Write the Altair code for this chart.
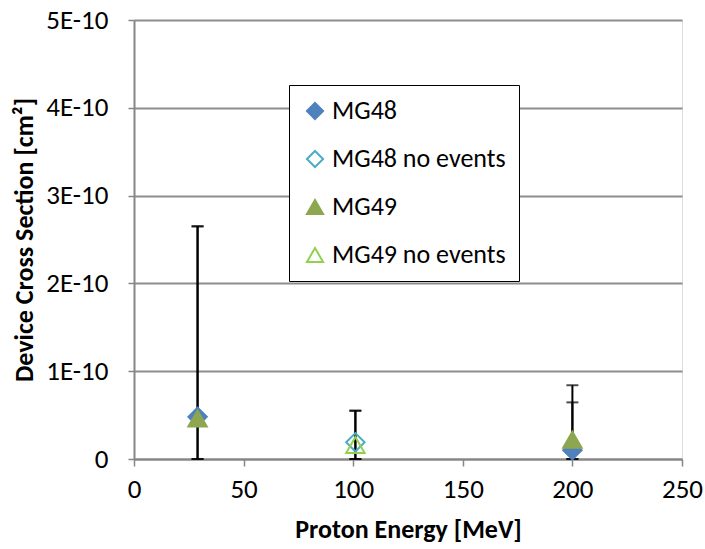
import altair as alt
import pandas as pd

# Marker data
energy = [29, 101, 200, 29, 101, 200]
cross_section = [0.48e-10, 0.19e-10, 0.10e-10, 0.46e-10, 0.16e-10, 0.22e-10]
series = ["MG48", "MG48 no events", "MG48", "MG49", "MG49 no events", "MG49"]

# Error bar data
err_energy = [29, 101, 200, 29, 101, 200]
err_low = [0.0, 0.0, 0.0, 0.0, 0.0, 0.0]
err_high = [2.65e-10, 0.55e-10, 0.645e-10, 2.65e-10, 0.55e-10, 0.84e-10]

x_ticks = [0, 50, 100, 150, 200, 250]
y_ticks = [0, 1e-10, 2e-10, 3e-10, 4e-10, 5e-10]

order = ["MG48", "MG48 no events", "MG49", "MG49 no events"]
shapes = ["diamond", "diamond", "triangle-up", "triangle-up"]
fills = ["#4F81BD", "transparent", "#8DA650", "transparent"]
strokes = ["#4F81BD", "#4BACC6", "#8DA650", "#92D050"]

pts = pd.DataFrame({"energy": energy, "value": cross_section, "series": series,
                    "ord": [order.index(s) for s in series]})
errs = pd.DataFrame({"energy": err_energy, "lo": err_low, "hi": err_high})

FONT = "Carlito, Lato, sans-serif"
FS = 26
LFS = 27

xs = alt.Scale(domain=[0, 250], nice=False)
ys = alt.Scale(domain=[0, 5e-10], nice=False)

x_enc = alt.X("energy:Q", scale=xs, title="Proton Energy [MeV]",
              axis=alt.Axis(values=x_ticks, grid=False, tickSize=7, tickColor="#868686",
                            domainColor="#868686", domainWidth=2, tickWidth=1.5,
                            labelFontSize=LFS, labelPadding=10, labelFlush=False,
                            titleFontSize=FS,
                            titleFontWeight="bold", titlePadding=14, labelFont=FONT,
                            titleFont=FONT, labelColor="#000000", titleColor="#000000"))
y_axis = alt.Axis(values=y_ticks, grid=True, gridColor="#8C8C8C", gridWidth=2,
                  tickSize=6, tickColor="#868686", tickWidth=1.5,
                  domainColor="#868686", domainWidth=2, labelFlush=False,
                  labelExpr="datum.value == 0 ? '0' : round(datum.value*1e10) + 'E-10'",
                  labelFontSize=LFS, labelPadding=20, titleFontSize=FS,
                  titleFontWeight="bold", titlePadding=8, labelFont=FONT, titleFont=FONT,
                  labelColor="#000000", titleColor="#000000")

rules = alt.Chart(errs).mark_rule(color="black", strokeWidth=2).encode(
    x=x_enc,
    y=alt.Y("lo:Q", scale=ys, title="Device Cross Section [cm²]", axis=y_axis),
    y2="hi:Q",
)
cap_hi = alt.Chart(errs).mark_tick(color="black", orient="horizontal", size=12,
                                   thickness=2).encode(
    x=alt.X("energy:Q", scale=xs), y=alt.Y("hi:Q", scale=ys))
cap_lo = alt.Chart(errs).mark_tick(color="black", orient="horizontal", size=12,
                                   thickness=2).encode(
    x=alt.X("energy:Q", scale=xs), y=alt.Y("lo:Q", scale=ys))

legend = alt.Legend(title=None, orient="none", legendX=155, legendY=65,
                    strokeColor="black", fillColor="white", padding=13,
                    labelFontSize=FS, labelFont=FONT, labelColor="#000000",
                    rowPadding=22, symbolSize=260, symbolStrokeWidth=2,
                    labelOffset=4, labelLimit=300)

points = alt.Chart(pts).mark_point(size=340, strokeWidth=2, opacity=1).encode(
    x=alt.X("energy:Q", scale=xs),
    y=alt.Y("value:Q", scale=ys),
    shape=alt.Shape("series:N", scale=alt.Scale(domain=order, range=shapes), legend=legend),
    fill=alt.Fill("series:N", scale=alt.Scale(domain=order, range=fills), legend=legend),
    stroke=alt.Stroke("series:N", scale=alt.Scale(domain=order, range=strokes), legend=legend),
    order=alt.Order("ord:Q"),
)

chart = alt.layer(rules, cap_hi, cap_lo, points).properties(
    width=548, height=439,
    autosize=alt.AutoSizeParams(type="none"),
    padding={"left": 134, "top": 20, "right": 23, "bottom": 90},
).configure_view(stroke="black", strokeWidth=2).configure(background="white")

chart.save("out.html", embed_options={"renderer": "svg", "actions": False})
